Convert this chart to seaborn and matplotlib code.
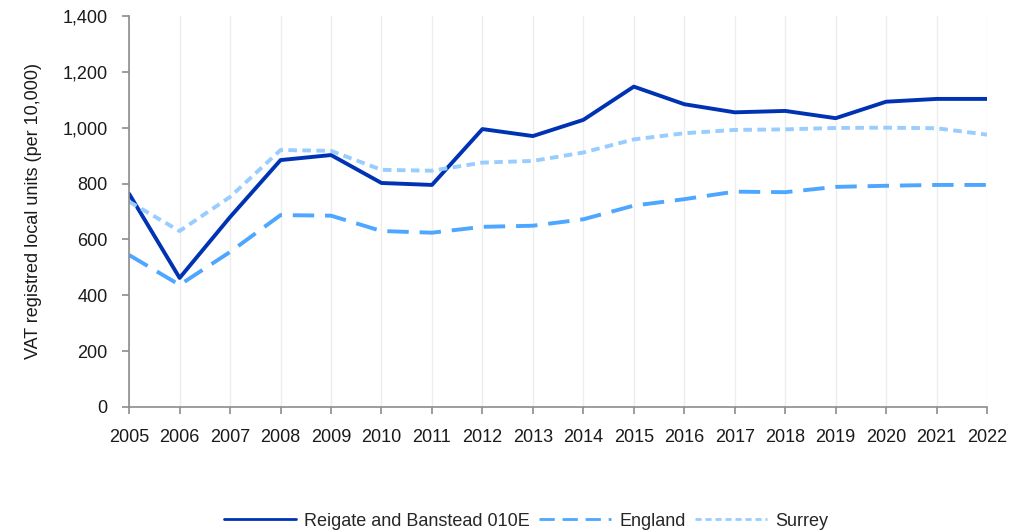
import matplotlib
matplotlib.use("Agg")
import matplotlib.pyplot as plt
import seaborn as sns
import pandas as pd
from matplotlib.ticker import FuncFormatter, MultipleLocator

years = list(range(2005, 2023))
reigate = [763, 462, 680, 884, 902, 802, 795, 995, 970, 1028, 1147, 1084, 1055, 1060, 1034, 1093, 1103, 1103]
england = [544, 437, 555, 687, 685, 630, 624, 645, 649, 672, 721, 744, 771, 769, 788, 792, 795, 795]
surrey = [735, 630, 752, 920, 917, 849, 846, 875, 881, 911, 958, 980, 992, 994, 999, 1000, 998, 975]

series_names = ["Reigate and Banstead 010E", "England", "Surrey"]
colors = ["#0033b3", "#4da6ff", "#99ccff"]

df = pd.DataFrame({
    "Year": years * 3,
    "Value": reigate + england + surrey,
    "Series": [series_names[0]] * len(years) + [series_names[1]] * len(years) + [series_names[2]] * len(years),
})

sns.set_style("white")
plt.rcParams["font.family"] = ["Liberation Sans", "DejaVu Sans"]
FS = 13

fig = plt.figure(figsize=(10.25, 5.32), dpi=100)
ax = fig.add_axes([0.126, 0.235, 0.837, 0.735])

sns.lineplot(
    data=df, x="Year", y="Value", hue="Series", style="Series",
    hue_order=series_names, style_order=series_names,
    palette=dict(zip(series_names, colors)),
    dashes={series_names[0]: "", series_names[1]: (5.5, 2.8), series_names[2]: (2.2, 1.4)},
    linewidth=2.8, ax=ax, legend=True,
)

ax.set_xlim(2005, 2022)
ax.set_ylim(0, 1400)
ax.set_xticks(years)
ax.yaxis.set_major_locator(MultipleLocator(200))
ax.yaxis.set_major_formatter(FuncFormatter(lambda v, p: f"{int(v):,}"))
ax.set_xlabel("")
ax.set_ylabel("VAT registred local units (per 10,000)", fontsize=FS, color="#1a1a1a", labelpad=15)

ax.grid(axis="x", color="#ededed", linewidth=1)
ax.grid(axis="y", visible=False)
for side in ["top", "right"]:
    ax.spines[side].set_visible(False)
for side in ["left", "bottom"]:
    ax.spines[side].set_color("#8c8c8c")
    ax.spines[side].set_linewidth(1.2)
ax.tick_params(axis="both", direction="out", length=5, width=1.2, color="#8c8c8c",
               labelsize=FS, labelcolor="#1a1a1a", left=True, bottom=True)
ax.tick_params(axis="x", pad=11)
ax.tick_params(axis="y", pad=10.5)

handles, labels = ax.get_legend_handles_labels()
ax.get_legend().remove()
for h in handles:
    h.set_linewidth(2)
fig.legend(handles, labels, loc="center", bbox_to_anchor=(0.513, 11 / 532),
           ncol=3, frameon=False, fontsize=FS, handlelength=4.0, columnspacing=0.5,
           handletextpad=0.45, borderpad=0)

fig.savefig("out.png", dpi=100)
